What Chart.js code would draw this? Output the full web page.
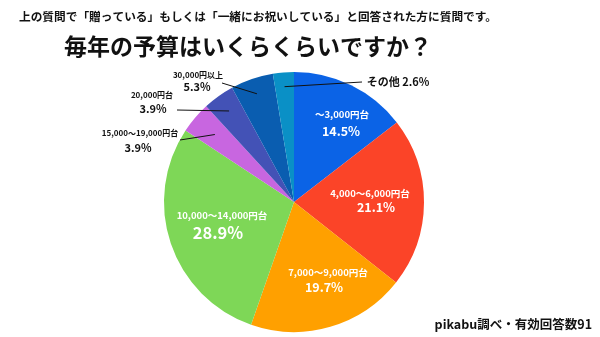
<!DOCTYPE html>
<html><head><meta charset="utf-8">
<script src="https://cdn.jsdelivr.net/npm/chart.js@4/dist/chart.umd.min.js"></script>
<style>
html,body{margin:0;padding:0;background:#fff;}
#wrap{position:relative;width:600px;height:337px;overflow:hidden;}
canvas{position:absolute;left:0;top:0;}
</style></head>
<body><div id="wrap"><canvas id="c" width="600" height="337"></canvas></div>
<script>
const subtitleText = '上の質問で「贈っている」もしくは「一緒にお祝いしている」と回答された方に質問です。';
const titleText = '毎年の予算はいくらくらいですか？';
const footerText = 'pikabu調べ・有効回答数91';
const categories = ['～3,000円台','4,000～6,000円台','7,000～9,000円台','10,000～14,000円台','15,000～19,000円台','20,000円台','30,000円以上','その他'];
const percentages = [14.5, 21.1, 19.7, 28.9, 3.9, 3.9, 5.3, 2.6];
const sliceColors = ['#0b63e6','#fb4428','#ffa000','#7ed757','#c866e0','#4352b6','#0a5db0','#0a90c6'];

// label layout (offsets from pie centre), not data
const FONT = '"Noto Sans CJK JP","Noto Sans",sans-serif';
const labelLayout = [
  {inside:true, n:[48,-88], p:[47,-71], ns:9.5, ps:12.5},
  {inside:true, n:[76,-9], p:[82,5], ns:9.5, ps:12.5},
  {inside:true, n:[34,70], p:[30,85], ns:9.5, ps:12.5},
  {inside:true, n:[-72,13], p:[-76,31], ns:9.5, ps:16.5},
  {inside:false, n:[-154,-69], p:[-156,-54], ns:8, ps:11, line:[-114,-62], r:0.8},
  {inside:false, n:[-142,-107], p:[-141,-93], ns:8, ps:11, line:[-117,-92], r:0.86},
  {inside:false, n:[-96,-127], p:[-97,-115], ns:8, ps:11, line:[-72,-119], r:0.88},
  {inside:false, one:true, n:[104,-120], ns:11, line:[68,-120], r:0.89}
];

const labelPlugin = {
  id:'labels',
  afterDraw(chart){
    const ctx = chart.ctx;
    const meta = chart.getDatasetMeta(0);
    ctx.save();
    ctx.textAlign='center'; ctx.textBaseline='middle';
    meta.data.forEach((arc,i)=>{
      const L = labelLayout[i];
      const cx = arc.x, cy = arc.y;
      const val = percentages[i].toFixed(1)+'%';
      if(L.inside){
        ctx.fillStyle='#ffffff';
        ctx.font='bold '+L.ns+'px '+FONT;
        ctx.fillText(categories[i], cx+L.n[0], cy+L.n[1]);
        ctx.font='bold '+L.ps+'px '+FONT;
        ctx.fillText(val, cx+L.p[0], cy+L.p[1]);
      } else {
        const mid = (arc.startAngle+arc.endAngle)/2;
        const ex = cx + Math.cos(mid)*arc.outerRadius*L.r;
        const ey = cy + Math.sin(mid)*arc.outerRadius*L.r;
        ctx.strokeStyle='#111'; ctx.lineWidth=1;
        ctx.beginPath(); ctx.moveTo(cx+L.line[0], cy+L.line[1]); ctx.lineTo(ex,ey); ctx.stroke();
        ctx.fillStyle='#111';
        if(L.one){
          ctx.font='bold '+L.ns+'px '+FONT;
          ctx.fillText(categories[i]+' '+val, cx+L.n[0], cy+L.n[1]);
        } else {
          ctx.font='bold '+L.ns+'px '+FONT;
          ctx.fillText(categories[i], cx+L.n[0], cy+L.n[1]);
          ctx.font='bold '+L.ps+'px '+FONT;
          ctx.fillText(val, cx+L.p[0], cy+L.p[1]);
        }
      }
    });
    // titles & footer
    ctx.fillStyle='#111';
    ctx.textAlign='center';
    ctx.font='bold 11.7px '+FONT;
    ctx.fillText(subtitleText, 258, 17);
    ctx.font='bold 23px '+FONT;
    ctx.fillText(titleText, 248, 46);
    ctx.textAlign='right';
    ctx.font='bold 12.5px '+FONT;
    ctx.fillText(footerText, 592, 324);
    ctx.restore();
  }
};

new Chart(document.getElementById('c'), {
  type:'pie',
  data:{labels:categories, datasets:[{data:percentages, backgroundColor:sliceColors, borderWidth:0}]},
  options:{
    responsive:false, animation:false,
    layout:{padding:{left:164, right:176, top:72, bottom:5}},
    plugins:{legend:{display:false}, tooltip:{enabled:false}}
  },
  plugins:[labelPlugin]
});
</script></body></html>
